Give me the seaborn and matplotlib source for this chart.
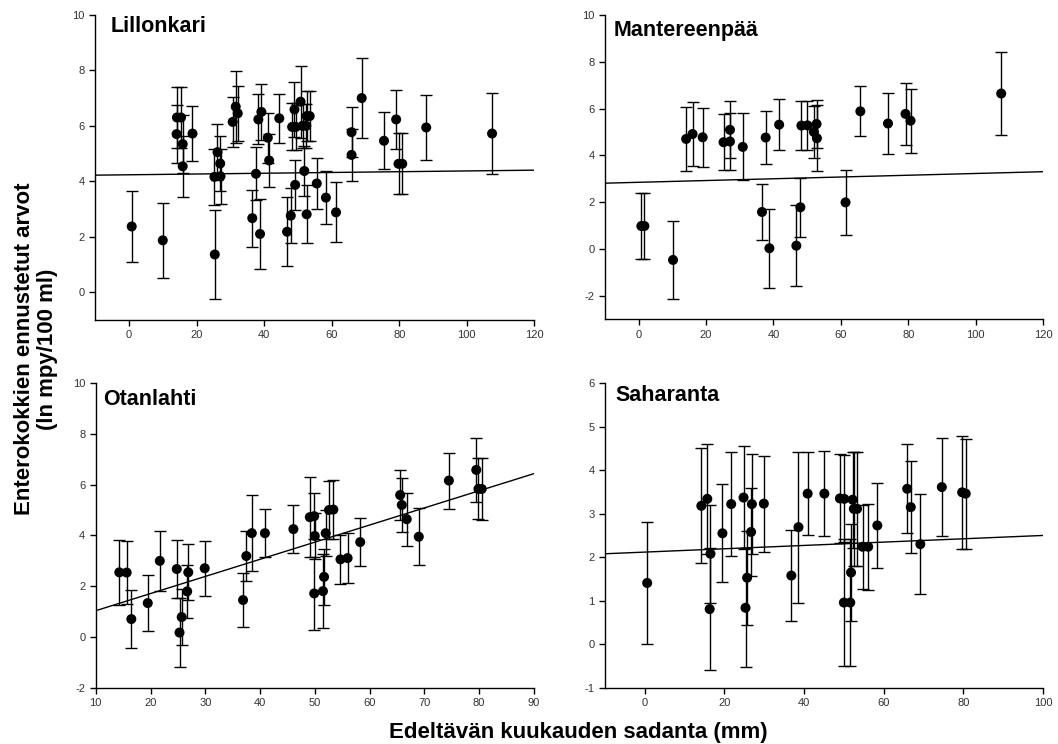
import matplotlib
matplotlib.use('Agg')
import matplotlib.pyplot as plt
import seaborn as sns

# --- Lillonkari ---
lil_x = [0.8, 10.0, 14.1, 14.2, 15.4, 15.9, 15.9, 18.8, 25.3, 25.4, 26.2, 27.0, 27.1, 30.7, 31.6, 32.2,
         36.5, 37.6, 38.3, 38.8, 39.2, 41.1, 41.5, 44.5, 46.8, 47.9, 48.3, 49.0, 49.2, 49.4, 50.8, 51.4,
         51.9, 52.5, 52.6, 52.6, 53.5, 55.6, 58.3, 61.3, 65.9, 65.9, 68.9, 75.5, 79.1, 79.8, 80.9, 88.0, 107.5]
lil_y = [2.37, 1.87, 5.70, 6.30, 6.30, 5.34, 4.54, 5.72, 4.16, 1.36, 5.05, 4.64, 4.18, 6.14, 6.69, 6.45,
         2.67, 4.27, 6.23, 2.10, 6.50, 5.57, 4.75, 6.27, 2.18, 2.76, 5.96, 6.59, 3.87, 5.96, 6.87, 6.00,
         4.37, 6.00, 2.81, 6.35, 6.35, 3.92, 3.41, 2.88, 5.77, 4.95, 7.00, 5.46, 6.23, 4.63, 4.63, 5.94, 5.72]
lil_err = [1.27, 1.35, 1.05, 1.10, 1.10, 1.05, 1.10, 1.00, 1.00, 1.62, 1.00, 1.00, 1.00, 0.90, 1.30, 1.00,
           1.03, 0.95, 0.90, 1.25, 1.00, 0.90, 0.95, 0.88, 1.25, 1.00, 0.85, 1.00, 0.90, 0.85, 1.30, 0.80,
           0.90, 0.80, 1.05, 0.90, 0.90, 0.92, 0.95, 1.08, 0.90, 0.95, 1.45, 1.03, 1.05, 1.10, 1.10, 1.16, 1.45]
lil_line_x = [-10, 120]
lil_line_y = [4.22, 4.40]

# --- Mantereenpää ---
man_x = [0.8, 1.7, 10.2, 14.1, 16.0, 19.0, 25.2, 27.1, 27.1, 30.9, 36.6, 37.7, 38.8, 41.7, 46.8, 48.0,
         48.3, 50.1, 52.0, 52.8, 52.9, 61.4, 65.8, 74.0, 79.2, 80.7, 107.6]
man_y = [0.98, 0.98, -0.47, 4.70, 4.91, 4.77, 4.56, 4.59, 5.09, 4.36, 1.58, 4.76, 0.03, 5.31, 0.14, 1.78,
         5.27, 5.28, 5.00, 5.34, 4.73, 1.99, 5.88, 5.36, 5.77, 5.48, 6.64]
man_err = [1.43, 1.43, 1.67, 1.35, 1.38, 1.27, 1.20, 1.20, 1.22, 1.43, 1.20, 1.12, 1.68, 1.10, 1.74, 1.27,
           1.05, 1.05, 1.10, 1.03, 1.40, 1.40, 1.07, 1.29, 1.33, 1.37, 1.78]
man_line_x = [-10, 120]
man_line_y = [2.81, 3.30]

# --- Otanlahti ---
ota_x = [14.3, 15.65, 16.5, 19.5, 21.7, 24.8, 25.3, 25.7, 26.7, 26.9, 29.9, 36.9, 37.5, 38.5, 40.9, 46.1,
         49.1, 49.9, 50.0, 49.9, 51.5, 51.7, 52.0, 52.6, 53.4, 54.7, 56.0, 58.3, 65.6, 65.9, 66.8, 69.0,
         74.5, 79.5, 79.9, 80.5]
ota_y = [2.55, 2.54, 0.71, 1.34, 3.00, 2.68, 0.18, 0.79, 1.80, 2.55, 2.71, 1.46, 3.19, 4.09, 4.09, 4.25,
         4.72, 4.76, 3.98, 1.72, 1.81, 2.37, 4.09, 5.00, 5.02, 3.06, 3.11, 3.74, 5.59, 5.20, 4.64, 3.95,
         6.16, 6.58, 5.83, 5.83]
ota_err = [1.27, 1.23, 1.13, 1.11, 1.18, 1.15, 1.37, 1.10, 1.03, 1.10, 1.08, 1.05, 1.00, 1.50, 0.95, 0.95,
           1.58, 0.90, 0.92, 1.43, 1.45, 1.10, 0.90, 1.15, 1.15, 0.97, 0.97, 0.96, 1.00, 1.05, 1.04, 1.12,
           1.10, 1.25, 1.20, 1.22]
ota_line_x = [10, 90]
ota_line_y = [1.04, 6.43]

# --- Saharanta ---
sah_x = [0.6, 14.2, 15.7, 16.3, 16.5, 19.5, 21.7, 24.8, 25.3, 25.7, 26.7, 26.9, 29.9, 36.8, 38.6, 40.9,
         45.1, 49.0, 50.0, 50.1, 51.6, 51.8, 52.2, 52.5, 53.3, 54.7, 56.1, 58.4, 65.9, 66.8, 69.2, 74.6,
         79.7, 80.6]
sah_y = [1.41, 3.18, 3.34, 0.81, 2.08, 2.55, 3.22, 3.37, 0.84, 1.53, 2.58, 3.22, 3.23, 1.58, 2.69, 3.46,
         3.46, 3.35, 0.96, 3.34, 0.96, 1.65, 3.32, 3.11, 3.11, 2.24, 2.24, 2.73, 3.57, 3.15, 2.30, 3.61,
         3.49, 3.46]
sah_err = [1.39, 1.32, 1.26, 1.40, 1.12, 1.12, 1.20, 1.18, 1.37, 1.08, 1.02, 1.14, 1.10, 1.05, 1.73, 0.96,
           0.98, 1.03, 1.46, 1.00, 1.46, 1.12, 1.10, 1.31, 1.31, 0.97, 0.99, 0.97, 1.02, 1.06, 1.14, 1.13,
           1.29, 1.26]
sah_line_x = [-10, 100]
sah_line_y = [2.08, 2.50]

sns.set_style('ticks')
plt.rcParams['font.family'] = ['Liberation Sans', 'DejaVu Sans']
plt.rcParams['axes.unicode_minus'] = False
plt.rcParams['text.color'] = 'black'

fig = plt.figure(figsize=(10.58, 7.44), dpi=100)

panels = [
    # name, x, y, err, line x, line y, xlim, xticks, ylim, yticks, axes rect, title pos
    ('Lillonkari', lil_x, lil_y, lil_err, lil_line_x, lil_line_y, (-10, 120), range(0, 121, 20),
     (-1, 10), range(0, 11, 2), [0.0900, 0.570, 0.4150, 0.410], (0.034, 0.944)),
    ('Mantereenpää', man_x, man_y, man_err, man_line_x, man_line_y, (-10, 120), range(0, 121, 20),
     (-3, 10), range(-2, 11, 2), [0.5718, 0.571, 0.4140, 0.409], (0.020, 0.930)),
    ('Otanlahti', ota_x, ota_y, ota_err, ota_line_x, ota_line_y, (10, 90), range(10, 91, 10),
     (-2, 10), range(-2, 11, 2), [0.0905, 0.0753, 0.4140, 0.410], (0.016, 0.928)),
    ('Saharanta', sah_x, sah_y, sah_err, sah_line_x, sah_line_y, (-10, 100), range(0, 101, 20),
     (-1, 6), range(-1, 7, 1), [0.5718, 0.0753, 0.4140, 0.410], (0.025, 0.941)),
]

for name, x, y, err, lx, ly, xlim, xticks, ylim, yticks, rect, tpos in panels:
    ax = fig.add_axes(rect)
    ax.errorbar(x, y, yerr=err, fmt='none', ecolor='black', elinewidth=1.0,
                capsize=4, capthick=1.0, zorder=2)
    sns.lineplot(x=lx, y=ly, ax=ax, color='black', linewidth=1.0, zorder=3)
    sns.scatterplot(x=x, y=y, ax=ax, color='black', s=52, edgecolor='none', zorder=4)
    ax.set_xlim(*xlim)
    ax.set_ylim(*ylim)
    ax.set_xticks(list(xticks))
    ax.set_yticks(list(yticks))
    ax.tick_params(labelsize=8, colors='black', labelcolor='#333333', length=4, width=1)
    for s in ['left', 'bottom']:
        ax.spines[s].set_linewidth(1.0)
        ax.spines[s].set_color('black')
    sns.despine(ax=ax)
    ax.set_xlabel('')
    ax.set_ylabel('')
    ax.text(tpos[0], tpos[1], name, transform=ax.transAxes, fontsize=15.5, color='black',
            fontweight='bold', ha='left', va='baseline')

fig.text(0.034, 0.531, 'Enterokokkien ennustetut arvot\n(ln mpy/100 ml)', rotation=90,
         ha='center', va='center', fontsize=16, fontweight='bold', color='black',
         multialignment='center', linespacing=1.15)
fig.text(0.547, 0.016, 'Edeltävän kuukauden sadanta (mm)', ha='center', va='center',
         fontsize=16, fontweight='bold', color='black')

fig.savefig('out.png', dpi=100)
plt.close(fig)
